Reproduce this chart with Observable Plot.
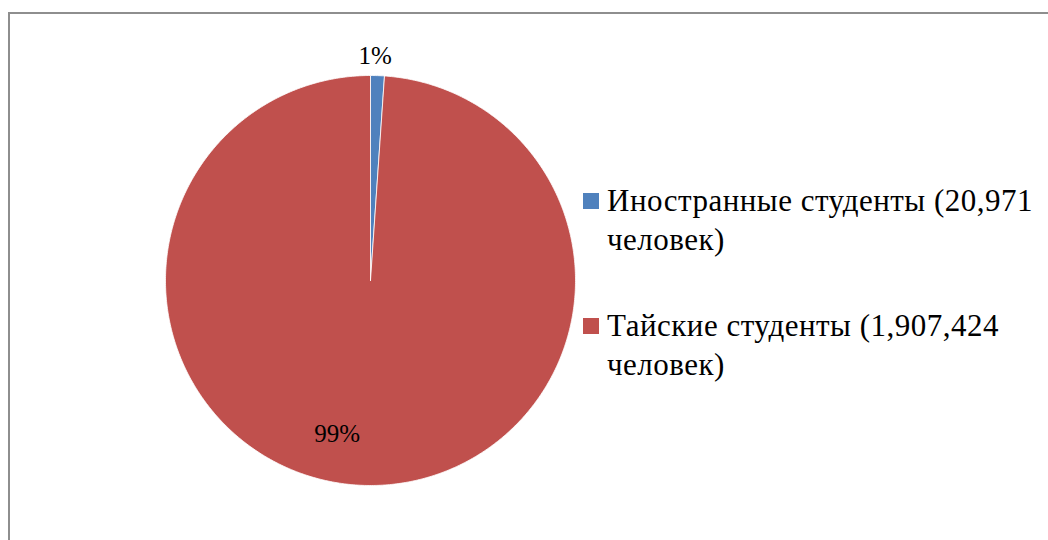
<!DOCTYPE html>
<html>
<head>
<meta charset="utf-8">
<script src="https://cdn.jsdelivr.net/npm/d3@7"></script>
<script src="https://cdn.jsdelivr.net/npm/@observablehq/plot@0.6"></script>
<style>
  html, body { margin: 0; padding: 0; background: #fff; overflow: hidden; }
  #wrap { position: relative; width: 1048px; height: 540px; overflow: hidden; font-family: "Liberation Serif", "Times New Roman", serif; }
  #frame { position: absolute; left: 8px; top: 12px; width: 1100px; height: 600px; border-left: 2px solid #8e8e8e; border-top: 2px solid #8e8e8e; box-sizing: border-box; }
  #chart { position: absolute; left: 0; top: 0; }
  #legend { position: absolute; left: 583px; top: 181px; font-size: 31px; line-height: 39px; letter-spacing: 0.5px; color: #000; white-space: nowrap; }
  .item { position: relative; padding-left: 24px; margin-bottom: 47px; }
  .sw { position: absolute; left: 0; top: 12px; width: 16px; height: 16px; }
</style>
</head>
<body>
<div id="wrap">
  <div id="frame"></div>
  <div id="chart"></div>
  <div id="legend"></div>
</div>
<script>
// Data
const categories = ["Иностранные студенты", "Тайские студенты"];
const counts = [20971, 1907424];
const colors = ["#4F81BD", "#C0504D"];
const pctLabels = ["1%", "99%"];
const unitLabel = "человек)";

const data = categories.map((name, i) => ({name, value: counts[i], color: colors[i], label: pctLabels[i]}));

const arcs = d3.pie().sort(null).value(d => d.value)(data);

// Build slice outlines from pie angles
function slicePoints(a) {
  const pts = [{x: 0, y: 0}];
  const n = Math.max(4, Math.ceil((a.endAngle - a.startAngle) / (Math.PI / 360)));
  for (let k = 0; k <= n; k++) {
    const t = a.startAngle + (a.endAngle - a.startAngle) * k / n;
    pts.push({x: Math.sin(t), y: Math.cos(t)});
  }
  pts.push({x: 0, y: 0});
  return pts;
}

// Label positions derived from slice mid-angles
const labelRadius = [1.095, 0.75];
const labelDx = [-3, -28];
const labels = arcs.map((a, i) => {
  const m = (a.startAngle + a.endAngle) / 2;
  return {x: Math.sin(m) * labelRadius[i], y: Math.cos(m) * labelRadius[i], text: a.data.label, dx: labelDx[i]};
});

const marks = arcs.map(a => Plot.line(slicePoints(a), {x: "x", y: "y", fill: a.data.color, stroke: "#fff", strokeWidth: 0.8, curve: "linear"}));
labels.forEach(l => {
  marks.push(Plot.text([l], {x: "x", y: "y", text: "text", dx: l.dx, fontSize: 25, fill: "#000"}));
});

const chart = Plot.plot({
  width: 1048,
  height: 540,
  marginLeft: 165,
  marginRight: 473,
  marginTop: 75,
  marginBottom: 55,
  x: {domain: [-1, 1], axis: null},
  y: {domain: [-1, 1], axis: null},
  style: {fontFamily: "Liberation Serif, Times New Roman, serif", background: "transparent", overflow: "visible"},
  marks
});
document.getElementById("chart").appendChild(chart);

// Legend
const fmt = d3.format(",");
const legend = document.getElementById("legend");
data.forEach(d => {
  const item = document.createElement("div");
  item.className = "item";
  const sw = document.createElement("div");
  sw.className = "sw";
  sw.style.background = d.color;
  item.appendChild(sw);
  const l1 = document.createElement("div");
  l1.textContent = d.name + " (" + fmt(d.value);
  const l2 = document.createElement("div");
  l2.textContent = unitLabel;
  item.appendChild(l1);
  item.appendChild(l2);
  legend.appendChild(item);
});
</script>
</body>
</html>
